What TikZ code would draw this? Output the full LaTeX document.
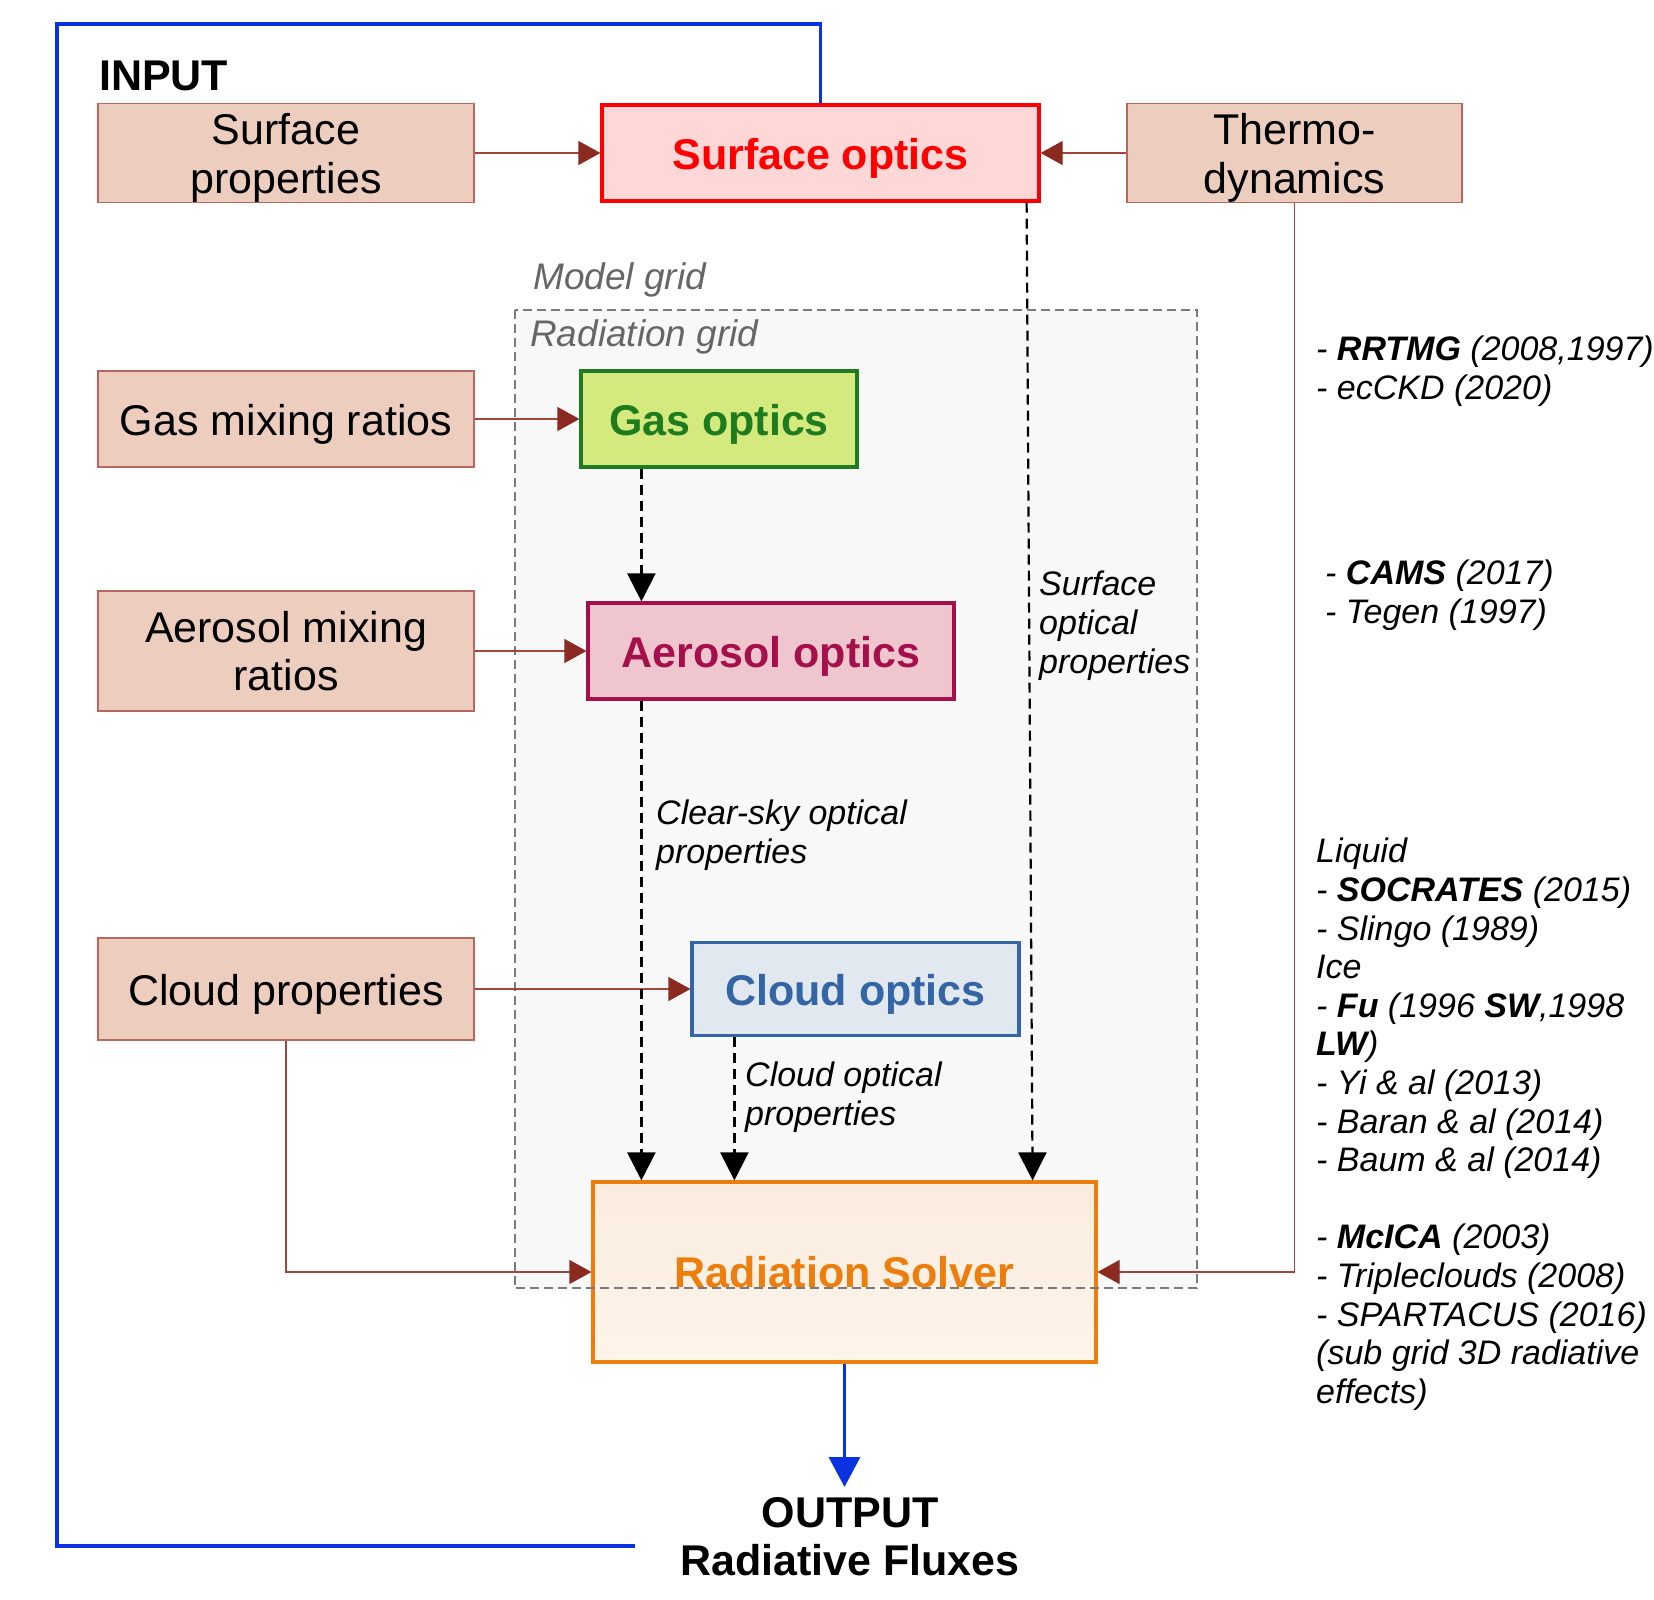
\documentclass[tikz,border=0pt]{standalone}
\usepackage{fontspec}
\setmainfont{Liberation Sans}
\usetikzlibrary{arrows.meta,calc}
\definecolor{inpfill}{HTML}{EDCDBD}
\definecolor{inpdraw}{HTML}{B8665E}
\definecolor{arrred}{HTML}{8B2A20}
\definecolor{arrline}{HTML}{A0463C}
\definecolor{sofill}{HTML}{FFD7D7}
\definecolor{sodraw}{HTML}{FF0000}
\definecolor{gofill}{HTML}{D4EA7E}
\definecolor{godraw}{HTML}{1E7B1E}
\definecolor{aofill}{HTML}{F0C6CE}
\definecolor{aodraw}{HTML}{A50F4B}
\definecolor{cofill}{HTML}{E1E8F0}
\definecolor{codraw}{HTML}{3465A4}
\definecolor{rsdraw}{HTML}{ED7D0C}
\definecolor{rstop}{HTML}{FAECDF}
\definecolor{rsbot}{HTML}{FDF4EA}
\definecolor{bluel}{HTML}{0A32E0}
\definecolor{gridfill}{HTML}{F8F8F8}
\definecolor{gridgray}{HTML}{7A7A7A}
\definecolor{graytext}{HTML}{666666}
\newcommand{\upstrut}{\rule{0pt}{41pt}}
\begin{document}
\begin{tikzpicture}[x=1pt,y=-1pt,
  inbox/.style={draw=inpdraw, fill=inpfill, line width=1.3pt, align=center, inner sep=0pt,
    font=\fontsize{43}{48.5}\selectfont},
  opbox/.style={line width=3.2pt, inner sep=0pt, font=\fontsize{43}{48.5}\selectfont\bfseries},
  redarrow/.style={draw=arrline, line width=1.2pt, -{Triangle[length=22pt,width=24pt,color=arrred]}},
  darrow/.style={draw=black, line width=2.2pt, dash pattern=on 10pt off 6pt, -{Triangle[length=28pt,width=28pt]}},
  reftext/.style={inner sep=0pt, align=left, font=\fontsize{34}{38.6}\selectfont\itshape},
  gridlabel/.style={inner sep=0pt, text=graytext, font=\fontsize{37}{42}\selectfont\itshape},
  bigbold/.style={inner sep=0pt, font=\fontsize{43}{48.5}\selectfont\bfseries},
  griddash/.style={draw=gridgray, line width=1.5pt, dash pattern=on 9pt off 5pt},
  blueline/.style={draw=bluel, line width=3.5pt}
]
\useasboundingbox (0,0) rectangle (1654,1600);

% radiation grid background
\node[fill=gridfill, minimum width=682pt, minimum height=978pt, inner sep=0pt] (grid) at (856,799) {};
\node[gridlabel, anchor=base west] (mg) at (533,289) {Model grid};
\node[gridlabel, anchor=base west] (rg) at (530,346) {Radiation grid};

% input boxes
\node[inbox, minimum width=376pt, minimum height=96pt] (sp) at (286,153) {\upstrut Surface\\properties};
\node[inbox, minimum width=335pt, minimum height=96pt] (td) at (1294.5,153) {\upstrut Thermo-\\dynamics};
\node[inbox, minimum width=376pt, minimum height=96pt] (gm) at (286,419) {\upstrut Gas mixing ratios};
\node[inbox, minimum width=376pt, minimum height=120pt] (am) at (286,651) {Aerosol mixing\\ratios};
\node[inbox, minimum width=376pt, minimum height=102pt] (cp) at (286,989) {\upstrut Cloud properties};

% optics boxes
\node[opbox, draw=sodraw, fill=sofill, text=sodraw, minimum width=437pt, minimum height=96pt] (so) at (820.5,153) {\upstrut Surface optics};
\node[opbox, draw=godraw, fill=gofill, text=godraw, minimum width=276pt, minimum height=96pt] (go) at (719,419) {\upstrut Gas optics};
\node[opbox, draw=aodraw, fill=aofill, text=aodraw, minimum width=366pt, minimum height=96pt] (ao) at (771,651) {\upstrut Aerosol optics};
\node[opbox, draw=codraw, fill=cofill, text=codraw, minimum width=327pt, minimum height=93pt] (co) at (855.5,989) {\upstrut Cloud optics};
\node[opbox, draw=rsdraw, top color=rstop, bottom color=rsbot, text=rsdraw,
      minimum width=503pt, minimum height=180pt] (rs) at (844.5,1272) {Radiation Solver};

% grid border on top
\draw[griddash] (grid.north west) rectangle (grid.south east);

% INPUT / OUTPUT
\node[bigbold, anchor=base west] (inp) at (99,91) {INPUT};
\node[bigbold, anchor=base] (outp) at (850,1527) {OUTPUT};
\node[bigbold, anchor=base] (flux) at (850,1575) {Radiative Fluxes};

% red input arrows
\draw[redarrow] (sp.east) -- (so.west);
\draw[redarrow] (td.west) -- (so.east);
\draw[redarrow] (gm.east) -- (go.west);
\draw[redarrow] (am.east) -- (ao.west);
\draw[redarrow] (cp.east) -- (cp.east -| co.west);
\draw[redarrow] (cp.south) |- (rs.west);
\draw[redarrow] (td.south) |- (rs.east);

% dashed optical-property flows
\coordinate (g1) at ([xshift=62pt]go.south west);
\draw[darrow] (g1) -- (g1 |- ao.north);
\coordinate (a1) at ([xshift=55pt]ao.south west);
\draw[darrow] (a1) -- (a1 |- rs.north);
\coordinate (c1) at ([xshift=44pt]co.south west);
\draw[darrow] (c1) -- (c1 |- rs.north);
\coordinate (s1) at ([xshift=-14pt]so.south east);
\draw[darrow] (s1) -- ($(s1 |- rs.north)+(6,0)$);

% labels
\node[reftext, anchor=north west] (lso) at (1039,571) {Surface\\optical\\properties};
\node[reftext, anchor=north west] (lcs) at (656,800) {Clear-sky optical\\properties};
\node[reftext, anchor=north west] (lco) at (745,1062) {Cloud optical\\properties};

% blue loop and output arrow
\coordinate (bl1) at (57,24);
\coordinate (bl2) at (635,1546);
\draw[blueline] (so.north) |- (bl1) |- (bl2);
\coordinate (otip) at (844,1487);
\draw[blueline, -{Triangle[length=30pt,width=31pt]}] (rs.south) -- (rs.south |- otip);

% references
\node[reftext, anchor=north west] (r1) at (1316,336) {- \textbf{RRTMG} (2008,1997)\\- ecCKD (2020)};
\node[reftext, anchor=north west] (r2) at (1325,560) {- \textbf{CAMS} (2017)\\- Tegen (1997)};
\node[reftext, anchor=north west] (r3) at (1316,838) {Liquid\\- \textbf{SOCRATES} (2015)\\- Slingo (1989)\\Ice\\- \textbf{Fu} (1996 \textbf{SW},1998\\\textbf{LW})\\- Yi \& al (2013)\\- Baran \& al (2014)\\- Baum \& al (2014)};
\node[reftext, anchor=north west] (r4) at (1316,1224) {- \textbf{McICA} (2003)\\- Tripleclouds (2008)\\- SPARTACUS (2016)\\(sub grid 3D radiative\\effects)};
\end{tikzpicture}
\end{document}
